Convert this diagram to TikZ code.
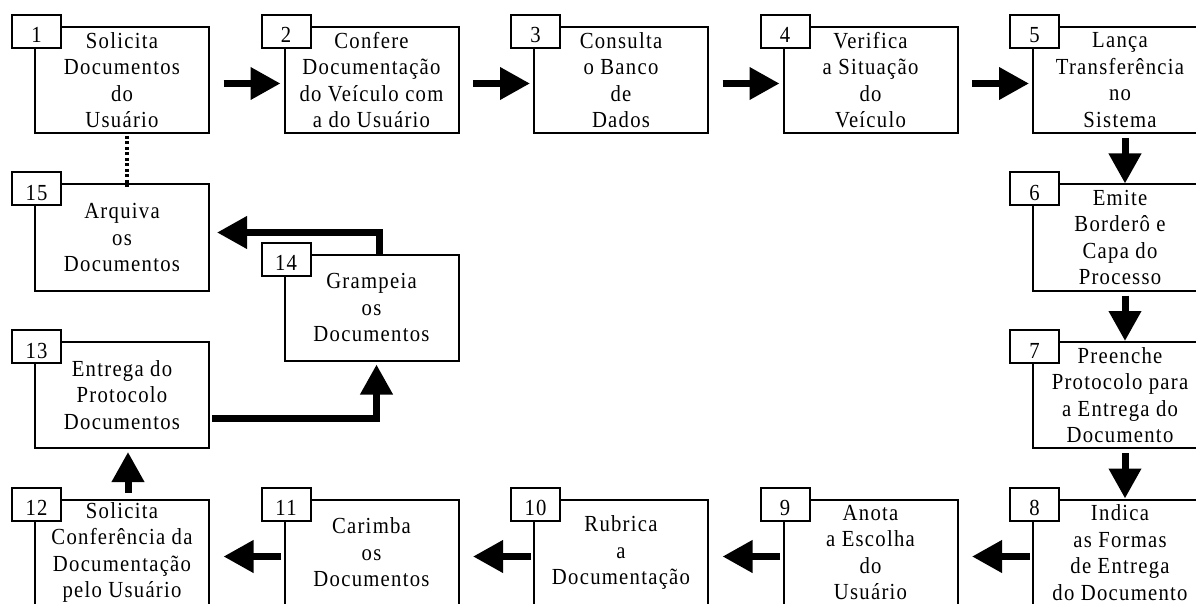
\documentclass[tikz,border=0pt]{standalone}
\usepackage{fontspec}
\setmainfont{Liberation Serif}[LetterSpace=5.5, FakeStretch=0.9]
\usetikzlibrary{positioning,arrows.meta}
\tikzset{
  stepbox/.style={rectangle, draw, line width=2pt, minimum width=174pt, minimum height=106pt,
    inner sep=0pt, outer sep=0pt, align=center, execute at begin node={\rule{0pt}{21pt}}},
  numbox/.style={rectangle, draw, fill=white, line width=2pt, minimum width=49pt,
    inner sep=0pt, outer sep=0pt, text height=28pt, text depth=5pt},
  flow/.style={line width=7pt, -{Triangle[length=30pt,width=31pt]}},
  dotline/.style={line width=4pt, dash pattern=on 3pt off 2.5pt}
}
\begin{document}
\begin{tikzpicture}[x=1pt, y=-1pt, node distance=51.5pt and 75.5pt,
    font=\fontsize{23}{26.5}\selectfont]
  \useasboundingbox (0,0) rectangle (1196,604);
  \clip (0,0) rectangle (1196,604);
  \fill[white] (0,0) rectangle (1196,604);
  % top row
  \node [stepbox] (b1) at (122,80) {Solicita\\Documentos\\do\\Usuário};
  \node [stepbox, right=of b1] (b2) {Confere\\Documentação\\do Veículo com\\a do Usuário};
  \node [stepbox, right=of b2] (b3) {Consulta\\o Banco\\de\\Dados};
  \node [stepbox, right=of b3] (b4) {Verifica\\a Situação\\do\\Veículo};
  \node [stepbox, right=of b4] (b5) {Lança\\Transferência\\no\\Sistema};
  % right column
  \node [stepbox, below=of b5] (b6) {Emite\\Borderô e\\Capa do\\Processo};
  \node [stepbox, below=of b6] (b7) {Preenche\\Protocolo para\\a Entrega do\\Documento};
  \node [stepbox, below=of b7] (b8) {Indica\\as Formas\\de Entrega\\do Documento};
  % bottom row
  \node [stepbox, left=of b8] (b9) {Anota\\a Escolha\\do\\Usuário};
  \node [stepbox, left=of b9] (b10) {Rubrica\\a\\Documentação};
  \node [stepbox, left=of b10] (b11) {Carimba\\os\\Documentos};
  \node [stepbox, left=of b11] (b12) {Solicita\\Conferência da\\Documentação\\pelo Usuário};
  % left column
  \node [stepbox, above=of b12] (b13) {Entrega do\\Protocolo\\Documentos};
  \node [stepbox, above=of b13] (b15) {Arquiva\\os\\Documentos};
  \node [stepbox, right=of b15, yshift=-70pt] (b14) {Grampeia\\os\\Documentos};
  % numbers
  \foreach \i in {1,...,15}
    \node [numbox] (n\i) at ([xshift=1.5pt,yshift=-4.5pt]b\i.north west) {\i};
  % connectors
  \foreach \a/\b in {1/2,2/3,3/4,4/5}
    \draw [flow, shorten <=14.5pt, shorten >=4pt] ([yshift=-3.5pt]b\a.east) -- ([yshift=-3.5pt]b\b.west);
  \foreach \a/\b in {5/6,6/7,7/8}
    \draw [flow, shorten <=5pt, shorten >=1pt] ([xshift=5pt]b\a.south) -- ([xshift=5pt]b\b.north);
  \foreach \a/\b in {8/9,9/10,10/11,11/12}
    \draw [flow, shorten <=3.5pt, shorten >=14.5pt] ([yshift=-4pt]b\a.west) -- ([yshift=-4pt]b\b.east);
  \draw [flow, shorten <=7pt, shorten >=4pt] ([xshift=6pt]b12.north) -- ([xshift=6pt]b13.south);
  \draw [flow, shorten <=3pt, shorten >=4pt] ([yshift=-23pt]b13.east) -| ([xshift=5pt]b14.south);
  \draw [flow, shorten >=8pt] ([xshift=8pt]b14.north) |- ([yshift=5pt]b15.east);
  \draw [dotline, shorten <=3pt, shorten >=-3pt] ([xshift=5pt]b1.south) -- ([xshift=5pt]b15.north);
\end{tikzpicture}
\end{document}
